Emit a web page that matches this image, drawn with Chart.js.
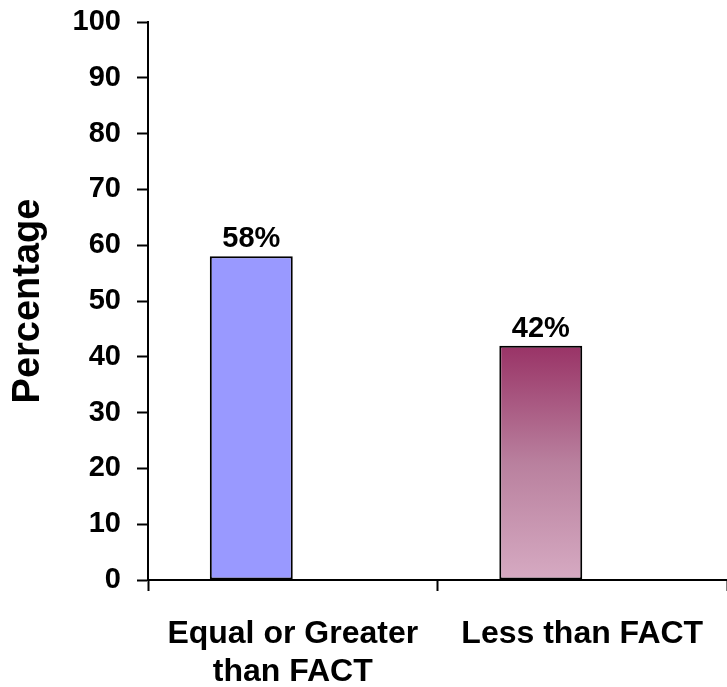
<!DOCTYPE html>
<html>
<head>
<meta charset="utf-8">
<script src="https://cdn.jsdelivr.net/npm/chart.js@4"></script>
<style>
  html, body { margin: 0; padding: 0; background: #ffffff; }
  #wrap { width: 727px; height: 687px; }
</style>
</head>
<body>
<div id="wrap"><canvas id="chartCanvas" width="727" height="687"></canvas></div>
<script>
// chart data
let categories = [['Equal or Greater', 'than FACT'], 'Less than FACT'];
let percentages = [58, 42];
let valueLabels = ['58%', '42%'];
let yTicks = [0, 10, 20, 30, 40, 50, 60, 70, 80, 90, 100];

let fontFamily = "'Liberation Sans', Arial, sans-serif";

// gradient for second bar, dark plum at top fading to pale pink
function barColor(context) {
    if (context.dataIndex === 0) return '#9999FF';
    let chart = context.chart;
    let yScale = chart.scales.y;
    if (!chart.chartArea || !yScale) return '#C48AA8';
    let top = yScale.getPixelForValue(percentages[context.dataIndex]);
    let bottom = yScale.getPixelForValue(0);
    let grad = chart.ctx.createLinearGradient(0, top, 0, bottom);
    grad.addColorStop(0, '#993366');
    grad.addColorStop(0.5, '#B9809E');
    grad.addColorStop(1, '#D6AAC2');
    return grad;
}

// draws the "58%" style labels above each bar
let valueLabelPlugin = {
    id: 'valueLabels',
    afterDatasetsDraw: function (chart) {
        let ctx = chart.ctx;
        let meta = chart.getDatasetMeta(0);
        ctx.save();
        ctx.font = 'bold 29px ' + fontFamily;
        ctx.fillStyle = '#000000';
        ctx.textAlign = 'center';
        ctx.textBaseline = 'alphabetic';
        meta.data.forEach(function (bar, i) {
            ctx.fillText(valueLabels[i], bar.x, bar.y - 9);
        });
        ctx.restore();
    }
};

let ctx = document.getElementById('chartCanvas').getContext('2d');

let chart = new Chart(ctx, {
    type: 'bar',
    data: {
        labels: categories,
        datasets: [{
            data: percentages,
            backgroundColor: barColor,
            borderColor: '#000000',
            borderWidth: 2,
            borderSkipped: false
        }, {
            // empty series, keeps the bars in the left half of each category
            data: [null, null]
        }]
    },
    options: {
        responsive: false,
        animation: false,
        layout: {
            padding: { top: 22, right: 0, left: 0, bottom: 0 }
        },
        plugins: {
            legend: { display: false },
            tooltip: { enabled: false }
        },
        datasets: {
            bar: {
                categoryPercentage: 0.573,
                barPercentage: 1.0
            }
        },
        scales: {
            x: {
                grid: {
                    display: true,
                    drawOnChartArea: false,
                    drawTicks: true,
                    tickLength: 11,
                    tickColor: '#000000',
                    tickWidth: 2
                },
                border: { display: true, color: '#000000', width: 2 },
                ticks: {
                    color: '#000000',
                    font: { family: fontFamily, size: 32, weight: 'bold', lineHeight: 1.16 },
                    padding: 25,
                    maxRotation: 0,
                    autoSkip: false
                },
                afterFit: function (scale) {
                    scale.height = 107;
                    scale.paddingLeft = 0;
                    scale.paddingRight = 0;
                }
            },
            y: {
                min: 0,
                max: 100,
                afterBuildTicks: function (scale) {
                    scale.ticks = yTicks.map(function (v) { return { value: v }; });
                },
                grid: {
                    display: true,
                    drawOnChartArea: false,
                    drawTicks: true,
                    tickLength: 11,
                    tickColor: '#000000',
                    tickWidth: 2
                },
                border: { display: true, color: '#000000', width: 2 },
                ticks: {
                    color: '#000000',
                    font: { family: fontFamily, size: 29, weight: 'bold' },
                    padding: 16
                },
                title: {
                    display: true,
                    text: 'Percentage',
                    color: '#000000',
                    font: { family: fontFamily, size: 38, weight: 'bold' },
                    padding: { top: 6, bottom: 0 }
                },
                afterFit: function (scale) {
                    scale.width = 148;
                    // let the layout padding alone decide where the plot starts
                    scale.paddingTop = 0;
                    scale.paddingBottom = 0;
                }
            }
        }
    },
    plugins: [valueLabelPlugin]
});
</script>
</body>
</html>
